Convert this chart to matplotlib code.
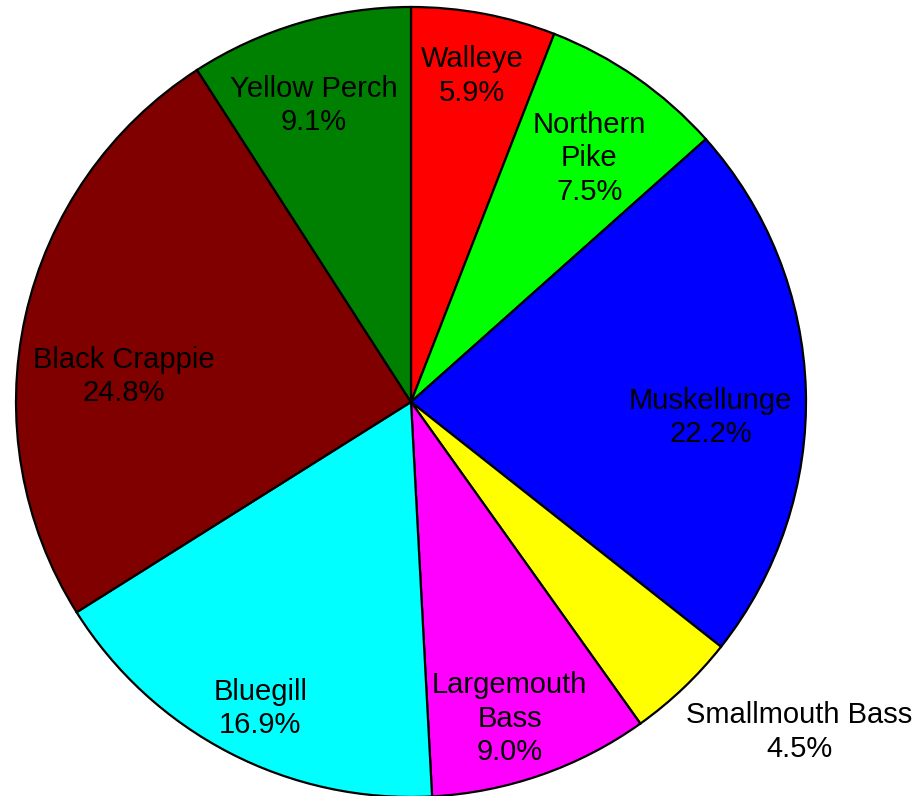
import numpy as np
import matplotlib
matplotlib.use("Agg")
import matplotlib.pyplot as plt

# fish catch composition, clockwise from 12 o'clock
species = ["Walleye", "Northern\nPike", "Muskellunge", "Smallmouth Bass",
           "Largemouth\nBass", "Bluegill", "Black Crappie", "Yellow Perch"]
percent = [5.9, 7.5, 22.2, 4.5, 9.0, 16.9, 24.8, 9.1]
colors = ["#ff0000", "#00ff00", "#0000ff", "#ffff00",
          "#ff00ff", "#00ffff", "#800000", "#008000"]

# label placement: radial distance (pie radius = 1) and angular nudge in degrees
label_r = [0.84, 0.765, 0.76, 1.29, 0.84, 0.865, 0.73, 0.79]
label_nudge = [0, -1.4, -4.7, 6, -2, 1.2, 7.4, 1.8]

plt.rcParams["font.family"] = ["Liberation Sans", "DejaVu Sans"]

fig = plt.figure(figsize=(9.2, 7.96), dpi=100)
ax = fig.add_axes([0, 0, 1, 1])

wedges, _ = ax.pie(percent, colors=colors, startangle=90, counterclock=False,
                   radius=1.0,
                   wedgeprops=dict(edgecolor="black", linewidth=1.6))

# map data units to pixels: centre at (411, 402) from top-left, radius 395 px
scale = 395.0
ax.set_xlim(-411 / scale, (920 - 411) / scale)
ax.set_ylim(-(796 - 402) / scale, 402 / scale)
ax.set_aspect("auto")
ax.axis("off")

for w, name, p, r, nudge in zip(wedges, species, percent, label_r, label_nudge):
    mid = np.deg2rad((w.theta1 + w.theta2) / 2 + nudge)
    ax.text(r * np.cos(mid), r * np.sin(mid), f"{name}\n{p:.1f}%",
            ha="center", va="center", fontsize=21, linespacing=1.25,
            color="black")

fig.savefig("out.png", dpi=100)
